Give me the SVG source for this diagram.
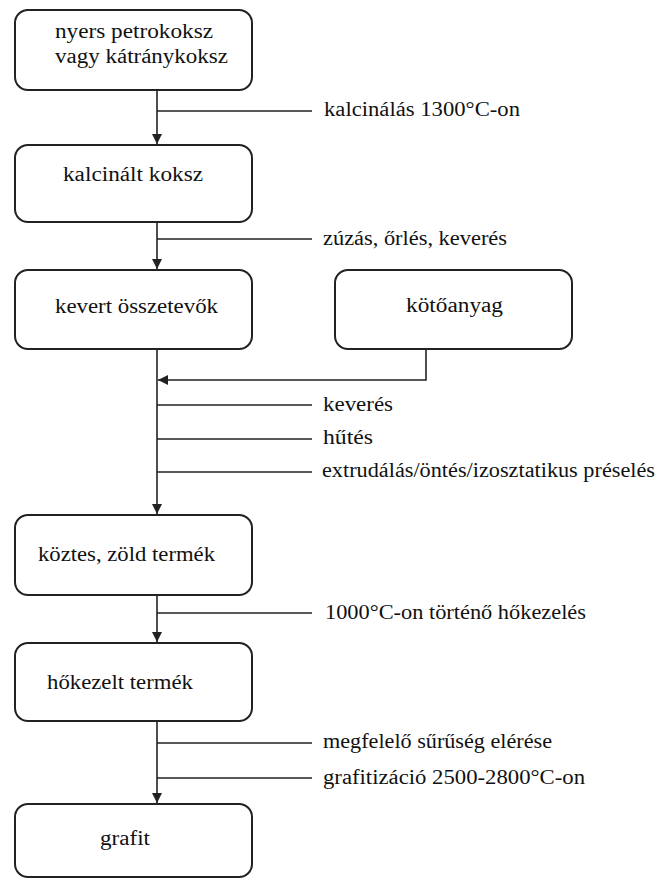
<svg xmlns="http://www.w3.org/2000/svg" width="659" height="879" viewBox="0 0 659 879">
<defs>
<marker id="ah" viewBox="0 0 10 10" refX="10" refY="5" markerWidth="10" markerHeight="10" markerUnits="userSpaceOnUse" orient="auto">
<path d="M0,0 L10,5 L0,10 Z" fill="#222"/>
</marker>
</defs>
<rect width="659" height="879" fill="#fff"/>
<g id="connectors" fill="none" stroke="#222" stroke-width="1.6">
<line x1="157" y1="90" x2="157" y2="144" marker-end="url(#ah)"/>
<line x1="157" y1="222" x2="157" y2="269" marker-end="url(#ah)"/>
<line x1="157" y1="349" x2="157" y2="514" marker-end="url(#ah)"/>
<line x1="157" y1="595" x2="157" y2="642" marker-end="url(#ah)"/>
<line x1="157" y1="721" x2="157" y2="803" marker-end="url(#ah)"/>
<polyline points="426,349 426,380 158,380" marker-end="url(#ah)"/>
<line x1="157" y1="111" x2="312" y2="111"/>
<line x1="157" y1="239" x2="312" y2="239"/>
<line x1="157" y1="405" x2="312" y2="405"/>
<line x1="157" y1="439" x2="312" y2="439"/>
<line x1="157" y1="472" x2="312" y2="472"/>
<line x1="157" y1="613" x2="312" y2="613"/>
<line x1="157" y1="743" x2="312" y2="743"/>
<line x1="157" y1="778" x2="312" y2="778"/>
</g>
<text x="324" y="116" font-family="Liberation Serif" font-size="20" fill="#111" textLength="196" lengthAdjust="spacingAndGlyphs">kalcinálás 1300°C-on</text>
<text x="323" y="245" font-family="Liberation Serif" font-size="20" fill="#111" textLength="184" lengthAdjust="spacingAndGlyphs">zúzás, őrlés, keverés</text>
<text x="323" y="411" font-family="Liberation Serif" font-size="20" fill="#111" textLength="70" lengthAdjust="spacingAndGlyphs">keverés</text>
<text x="323" y="444" font-family="Liberation Serif" font-size="20" fill="#111" textLength="50" lengthAdjust="spacingAndGlyphs">hűtés</text>
<text x="322" y="477" font-family="Liberation Serif" font-size="20" fill="#111" textLength="333" lengthAdjust="spacingAndGlyphs">extrudálás/öntés/izosztatikus préselés</text>
<text x="325" y="619" font-family="Liberation Serif" font-size="20" fill="#111" textLength="261" lengthAdjust="spacingAndGlyphs">1000°C-on történő hőkezelés</text>
<text x="323" y="748" font-family="Liberation Serif" font-size="20" fill="#111" textLength="229" lengthAdjust="spacingAndGlyphs">megfelelő sűrűség elérése</text>
<text x="323" y="784" font-family="Liberation Serif" font-size="20" fill="#111" textLength="262" lengthAdjust="spacingAndGlyphs">grafitizáció 2500-2800°C-on</text>
<g id="n1">
<rect x="15" y="10" width="237" height="80" rx="13" fill="#fff" stroke="#222" stroke-width="2"/>
<text x="55" y="38" font-family="Liberation Serif" font-size="20" fill="#111" textLength="158" lengthAdjust="spacingAndGlyphs">nyers petrokoksz</text>
<text x="55" y="63" font-family="Liberation Serif" font-size="20" fill="#111" textLength="173" lengthAdjust="spacingAndGlyphs">vagy kátránykoksz</text>
</g>
<g id="n2">
<rect x="15" y="145" width="237" height="77" rx="13" fill="#fff" stroke="#222" stroke-width="2"/>
<text x="63" y="181" font-family="Liberation Serif" font-size="20" fill="#111" textLength="140" lengthAdjust="spacingAndGlyphs">kalcinált koksz</text>
</g>
<g id="n3">
<rect x="15" y="270" width="237" height="79" rx="13" fill="#fff" stroke="#222" stroke-width="2"/>
<text x="55" y="313" font-family="Liberation Serif" font-size="20" fill="#111" textLength="163" lengthAdjust="spacingAndGlyphs">kevert összetevők</text>
</g>
<g id="n4">
<rect x="335" y="270" width="237" height="79" rx="13" fill="#fff" stroke="#222" stroke-width="2"/>
<text x="406" y="312" font-family="Liberation Serif" font-size="20" fill="#111" textLength="97" lengthAdjust="spacingAndGlyphs">kötőanyag</text>
</g>
<g id="n5">
<rect x="15" y="515" width="237" height="80" rx="13" fill="#fff" stroke="#222" stroke-width="2"/>
<text x="38" y="561" font-family="Liberation Serif" font-size="20" fill="#111" textLength="177" lengthAdjust="spacingAndGlyphs">köztes, zöld termék</text>
</g>
<g id="n6">
<rect x="15" y="643" width="237" height="78" rx="13" fill="#fff" stroke="#222" stroke-width="2"/>
<text x="47" y="689" font-family="Liberation Serif" font-size="20" fill="#111" textLength="146" lengthAdjust="spacingAndGlyphs">hőkezelt termék</text>
</g>
<g id="n7">
<rect x="15" y="804" width="237" height="73" rx="13" fill="#fff" stroke="#222" stroke-width="2"/>
<text x="100" y="845" font-family="Liberation Serif" font-size="20" fill="#111" textLength="50" lengthAdjust="spacingAndGlyphs">grafit</text>
</g>
</svg>
